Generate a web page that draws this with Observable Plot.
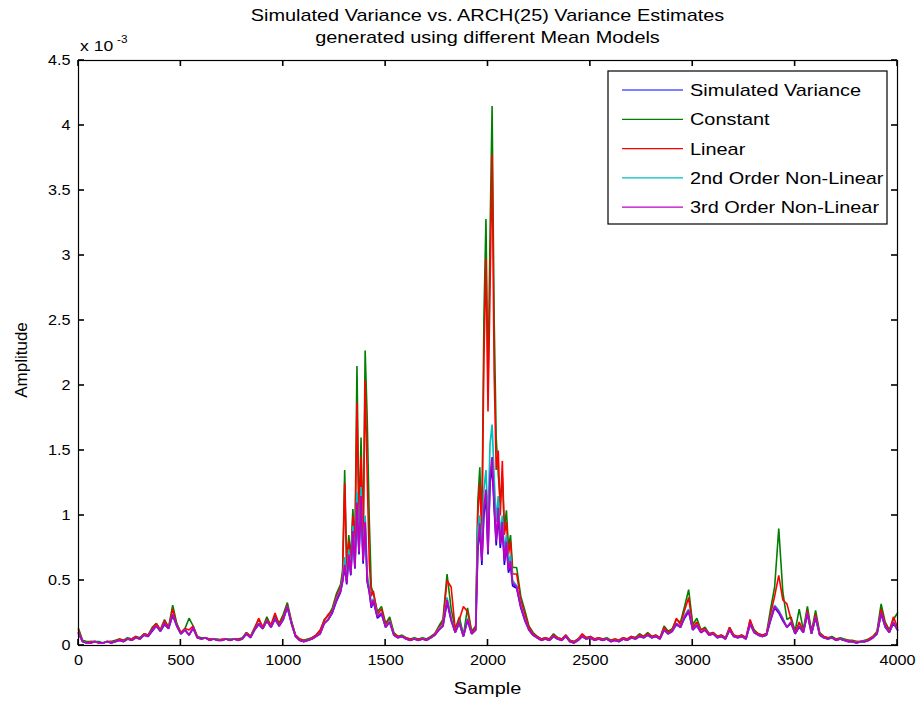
<!DOCTYPE html>
<html><head><meta charset="utf-8">
<script src="https://cdn.jsdelivr.net/npm/d3@7"></script>
<script src="https://cdn.jsdelivr.net/npm/@observablehq/plot@0.6"></script>
<style>body{margin:0;background:#fff;} svg{display:block}</style>
</head><body><div id="chart"></div>
<script>
const titleLines = ["Simulated Variance vs. ARCH(25) Variance Estimates", "generated using different Mean Models"];
const xLabel = "Sample";
const yLabel = "Amplitude";
const seriesNames = ["Simulated Variance", "Constant", "Linear", "2nd Order Non-Linear", "3rd Order Non-Linear"];
const seriesColors = ["#0000ff", "#008000", "#ff0000", "#00bfbf", "#bf00bf"];
const xTicks = [0, 500, 1000, 1500, 2000, 2500, 3000, 3500, 4000];
const yTicks = [0, 0.5, 1, 1.5, 2, 2.5, 3, 3.5, 4, 4.5];

// sample index (finer spacing around the two bursts)
const sample = [...d3.range(0, 1281, 20), ...d3.range(1290, 1441, 10), ...d3.range(1460, 1941, 20), ...d3.range(1950, 2121, 10), ...d3.range(2140, 4001, 20)];

// values in units of 1e-3
const simulated = [
0.09,0.03,0.02,0.02,0.03,0.02,0.02,0.03,0.02,0.03,
0.04,0.03,0.05,0.04,0.06,0.05,0.08,0.07,0.11,0.15,
0.11,0.16,0.13,0.23,0.15,0.09,0.12,0.08,0.13,0.06,
0.05,0.06,0.04,0.05,0.04,0.04,0.05,0.04,0.05,0.04,
0.05,0.09,0.06,0.12,0.16,0.13,0.19,0.14,0.20,0.15,
0.20,0.29,0.17,0.07,0.04,0.03,0.04,0.05,0.07,0.09,
0.17,0.20,0.25,0.34,0.41,
0.49,0.60,0.47,0.68,0.54,0.85,0.59,1.05,0.70,1.10,0.63,0.92,0.49,0.41,0.29,0.34,
0.21,0.24,0.14,0.18,0.08,0.06,0.07,0.05,0.04,0.05,0.04,0.05,0.04,0.06,0.08,0.12,0.15,0.33,0.19,0.10,0.17,0.07,0.19,0.09,0.12,
0.72,0.90,0.62,1.00,1.15,0.70,1.24,1.38,1.05,0.77,1.00,0.75,0.90,0.62,0.77,0.56,0.62,0.46,
0.44,0.29,0.19,0.12,0.08,0.06,0.04,0.05,0.04,0.07,
0.05,0.04,0.07,0.03,0.02,0.04,0.07,0.05,0.06,0.04,
0.05,0.04,0.05,0.03,0.04,0.03,0.05,0.04,0.06,0.05,
0.07,0.06,0.08,0.06,0.07,0.05,0.12,0.09,0.11,0.16,
0.14,0.21,0.26,0.12,0.15,0.10,0.12,0.08,0.09,0.06,
0.07,0.05,0.12,0.07,0.06,0.07,0.05,0.16,0.10,0.08,
0.07,0.08,0.19,0.29,0.25,0.19,0.14,0.17,0.09,0.14,
0.10,0.24,0.09,0.21,0.08,0.06,0.05,0.06,0.04,0.05,
0.04,0.03,0.03,0.02,0.03,0.03,0.04,0.06,0.09,0.24,
0.14,0.10,0.17,0.12];

const constant = [
0.13,0.04,0.03,0.03,0.03,0.03,0.02,0.03,0.03,0.04,
0.05,0.04,0.06,0.05,0.07,0.06,0.09,0.08,0.14,0.17,
0.12,0.20,0.14,0.31,0.17,0.10,0.13,0.21,0.15,0.07,
0.06,0.06,0.05,0.05,0.05,0.04,0.05,0.05,0.05,0.05,
0.06,0.10,0.07,0.14,0.20,0.14,0.22,0.15,0.23,0.17,
0.24,0.33,0.19,0.08,0.05,0.04,0.05,0.06,0.08,0.11,
0.20,0.23,0.29,0.40,0.47,
0.58,1.35,0.62,0.85,0.68,1.05,0.75,2.15,0.95,1.60,0.80,2.27,1.75,0.98,0.45,0.40,
0.26,0.30,0.17,0.22,0.10,0.07,0.08,0.06,0.05,0.06,0.05,0.06,0.05,0.07,0.09,0.15,0.20,0.55,0.28,0.13,0.22,0.08,0.29,0.11,0.15,
1.10,1.37,0.90,2.52,3.28,2.00,3.17,4.15,2.52,1.60,1.32,1.10,1.30,0.90,1.04,0.75,0.85,0.60,
0.60,0.38,0.27,0.15,0.10,0.07,0.05,0.06,0.05,0.09,
0.06,0.05,0.08,0.04,0.03,0.05,0.08,0.06,0.07,0.05,
0.06,0.05,0.06,0.04,0.05,0.04,0.06,0.05,0.07,0.06,
0.09,0.07,0.10,0.07,0.08,0.06,0.15,0.11,0.13,0.20,
0.18,0.30,0.43,0.16,0.21,0.12,0.14,0.09,0.10,0.07,
0.08,0.06,0.14,0.08,0.07,0.08,0.06,0.19,0.12,0.09,
0.08,0.09,0.28,0.45,0.90,0.41,0.20,0.22,0.11,0.28,
0.12,0.30,0.11,0.27,0.10,0.07,0.06,0.07,0.05,0.06,
0.05,0.04,0.04,0.03,0.03,0.04,0.05,0.07,0.11,0.32,
0.18,0.12,0.20,0.25];

const linear = [
0.12,0.03,0.02,0.03,0.03,0.02,0.02,0.03,0.03,0.03,
0.05,0.04,0.05,0.05,0.07,0.05,0.09,0.08,0.13,0.17,
0.12,0.19,0.14,0.28,0.16,0.10,0.13,0.12,0.15,0.07,
0.05,0.06,0.05,0.05,0.04,0.05,0.05,0.04,0.05,0.05,
0.05,0.10,0.07,0.13,0.21,0.14,0.20,0.16,0.25,0.16,
0.22,0.31,0.18,0.08,0.05,0.04,0.04,0.06,0.08,0.12,
0.19,0.24,0.27,0.38,0.45,
0.55,1.25,0.58,0.80,0.62,1.00,0.70,1.87,0.90,1.45,0.75,2.04,1.30,0.65,0.38,0.42,
0.24,0.28,0.16,0.20,0.09,0.07,0.07,0.06,0.05,0.05,0.05,0.05,0.05,0.06,0.09,0.14,0.18,0.50,0.45,0.12,0.20,0.30,0.26,0.10,0.14,
1.00,1.25,0.85,2.20,2.98,1.80,2.73,3.78,2.10,1.35,1.50,1.00,1.42,0.85,0.95,0.70,0.80,0.55,
0.55,0.35,0.24,0.14,0.09,0.07,0.05,0.06,0.05,0.08,
0.06,0.05,0.08,0.04,0.03,0.05,0.09,0.06,0.07,0.05,
0.06,0.05,0.05,0.04,0.05,0.04,0.06,0.05,0.07,0.06,
0.08,0.07,0.09,0.07,0.08,0.06,0.14,0.10,0.12,0.21,
0.16,0.27,0.37,0.14,0.18,0.12,0.13,0.09,0.10,0.07,
0.08,0.06,0.14,0.08,0.07,0.08,0.06,0.20,0.11,0.09,
0.08,0.09,0.24,0.38,0.54,0.35,0.32,0.20,0.10,0.18,
0.11,0.27,0.10,0.24,0.09,0.07,0.06,0.06,0.05,0.05,
0.04,0.04,0.03,0.03,0.03,0.03,0.05,0.07,0.10,0.28,
0.17,0.11,0.22,0.14];

const nonlinear2 = [
0.10,0.03,0.02,0.02,0.03,0.02,0.02,0.03,0.02,0.03,
0.04,0.03,0.05,0.04,0.06,0.05,0.08,0.07,0.12,0.15,
0.11,0.17,0.13,0.24,0.15,0.09,0.12,0.08,0.14,0.06,
0.05,0.06,0.04,0.05,0.04,0.04,0.05,0.04,0.05,0.04,
0.05,0.09,0.06,0.12,0.17,0.13,0.19,0.14,0.21,0.15,
0.20,0.30,0.17,0.07,0.04,0.03,0.04,0.05,0.07,0.09,
0.17,0.20,0.26,0.36,0.43,
0.52,0.68,0.50,0.74,0.57,0.92,0.63,1.18,0.75,1.22,0.68,1.00,0.55,0.45,0.32,0.36,
0.23,0.25,0.14,0.19,0.08,0.06,0.07,0.05,0.04,0.05,0.04,0.05,0.04,0.06,0.08,0.13,0.16,0.37,0.21,0.10,0.18,0.07,0.21,0.09,0.12,
0.90,1.00,0.75,1.20,1.35,0.95,1.55,1.70,1.30,0.95,1.15,0.85,1.00,0.72,0.85,0.62,0.70,0.50,
0.46,0.31,0.20,0.12,0.08,0.06,0.04,0.05,0.04,0.07,
0.05,0.04,0.07,0.03,0.02,0.04,0.07,0.05,0.06,0.04,
0.05,0.04,0.05,0.03,0.04,0.03,0.05,0.04,0.06,0.05,
0.07,0.06,0.08,0.06,0.07,0.05,0.12,0.09,0.11,0.17,
0.14,0.23,0.28,0.12,0.16,0.10,0.12,0.08,0.09,0.06,
0.07,0.05,0.12,0.07,0.06,0.07,0.05,0.17,0.10,0.08,
0.07,0.08,0.21,0.31,0.27,0.21,0.14,0.18,0.09,0.15,
0.10,0.25,0.09,0.22,0.08,0.06,0.05,0.06,0.04,0.05,
0.04,0.03,0.03,0.02,0.03,0.03,0.04,0.06,0.09,0.25,
0.15,0.10,0.18,0.12];

const nonlinear3 = [
0.10,0.03,0.02,0.02,0.03,0.02,0.02,0.03,0.02,0.03,
0.04,0.03,0.05,0.04,0.06,0.05,0.08,0.07,0.12,0.15,
0.11,0.17,0.13,0.24,0.15,0.09,0.12,0.08,0.14,0.06,
0.05,0.06,0.04,0.05,0.04,0.04,0.05,0.04,0.05,0.04,
0.05,0.09,0.06,0.12,0.17,0.13,0.19,0.14,0.21,0.15,
0.20,0.30,0.17,0.07,0.04,0.03,0.04,0.05,0.07,0.09,
0.17,0.20,0.26,0.35,0.42,
0.50,0.62,0.48,0.70,0.55,0.88,0.60,1.10,0.72,1.15,0.65,0.95,0.50,0.42,0.30,0.35,
0.22,0.25,0.14,0.18,0.08,0.06,0.07,0.05,0.04,0.05,0.04,0.05,0.04,0.06,0.08,0.12,0.15,0.35,0.20,0.10,0.18,0.07,0.20,0.09,0.12,
0.75,0.94,0.65,1.05,1.20,0.72,1.30,1.45,1.10,0.80,1.06,0.78,0.95,0.65,0.80,0.58,0.65,0.48,
0.45,0.30,0.20,0.12,0.08,0.06,0.04,0.05,0.04,0.07,
0.05,0.04,0.07,0.03,0.02,0.04,0.07,0.05,0.06,0.04,
0.05,0.04,0.05,0.03,0.04,0.03,0.05,0.04,0.06,0.05,
0.07,0.06,0.08,0.06,0.07,0.05,0.12,0.09,0.11,0.17,
0.14,0.22,0.27,0.12,0.16,0.10,0.12,0.08,0.09,0.06,
0.07,0.05,0.12,0.07,0.06,0.07,0.05,0.17,0.10,0.08,
0.07,0.08,0.20,0.30,0.26,0.20,0.14,0.18,0.09,0.15,
0.10,0.25,0.09,0.22,0.08,0.06,0.05,0.06,0.04,0.05,
0.04,0.03,0.03,0.02,0.03,0.03,0.04,0.06,0.09,0.25,
0.15,0.10,0.18,0.12];

const seriesValues = [simulated, constant, linear, nonlinear2, nonlinear3];
const seriesWidths = [1.6, 1.6, 1.6, 1.7, 1.8];
seriesValues.forEach((v, k) => { if (v.length !== sample.length) throw new Error(seriesNames[k] + " length " + v.length + " vs " + sample.length); });

const rows = seriesValues.map((vals) => vals.map((v, i) => ({sample: sample[i], value: v})));

const W = 923, H = 704, mT = 60, mR = 26, mB = 59, mL = 78, tickLen = 6;
const font = "'Liberation Sans', Arial, Helvetica, sans-serif";
const chart = Plot.plot({
  width: W, height: H,
  marginTop: mT, marginRight: mR, marginBottom: mB, marginLeft: mL,
  style: {fontFamily: font, fontSize: "15px", background: "#fff", color: "#000", overflow: "visible"},
  x: {domain: [0, 4000]},
  y: {domain: [0, 4.5]},
  marks: [
    ...rows.map((r, k) => Plot.line(r, {x: "sample", y: "value", stroke: seriesColors[k], strokeWidth: seriesWidths[k], strokeLinejoin: "miter"})),
    Plot.frame({stroke: "#000", strokeWidth: 1.2}),
    Plot.axisX({anchor: "bottom", ticks: xTicks, tickSize: 0, tickPadding: 9, label: null, tickFormat: d => String(d), fontSize: 15}),
    Plot.axisY({anchor: "left", ticks: yTicks, tickSize: 0, tickPadding: 8, label: null, tickFormat: d => String(d), fontSize: 15})
  ]
});
document.getElementById("chart").appendChild(chart);

const svg = d3.select(chart);
const xs = chart.scale("x"), ys = chart.scale("y");
const x0 = xs.apply(0), x1 = xs.apply(4000), y0 = ys.apply(0), y1 = ys.apply(4.5);

// inward tick marks on all four sides, positioned by Plot's scales
const tg = svg.append("g");
const seg = (ax, ay, bx, by) => tg.append("line")
  .attr("x1", ax).attr("y1", ay).attr("x2", bx).attr("y2", by)
  .style("stroke", "#000").style("stroke-width", "1.6px");
xTicks.forEach(t => {
  const x = xs.apply(t);
  seg(x, y0, x, y0 - tickLen);
  seg(x, y1, x, y1 + tickLen);
});
yTicks.forEach(t => {
  const y = ys.apply(t);
  seg(x0, y, x0 + tickLen, y);
  seg(x1, y, x1 - tickLen, y);
});

const add = (x, y, txt, size, anchor = "middle") => svg.append("text")
  .attr("x", x).attr("y", y).attr("text-anchor", anchor)
  .attr("font-family", font).attr("font-size", size).attr("fill", "#000").text(txt);

add(487.5, 21, titleLines[0], 17).classed("stretch", true);
add(487.5, 43, titleLines[1], 17).classed("stretch", true);
add(487.5, 694, xLabel, 17).classed("stretch", true);
svg.append("text").attr("transform", "translate(27,360) rotate(-90)")
  .attr("text-anchor", "middle").attr("font-family", font).attr("font-size", 17).text(yLabel);
add(80, 51, "x 10", 15, "start").classed("stretch", true);
add(117, 43, "-3", 10, "start").classed("stretch", true);

// legend
const lg = svg.append("g");
lg.append("rect").attr("x", 608).attr("y", 71).attr("width", 279).attr("height", 153)
  .attr("fill", "#fff").attr("stroke", "#000").attr("stroke-width", 1.2);
seriesNames.forEach((name, k) => {
  const y = 90 + k * 29.3;
  lg.append("line").attr("x1", 622).attr("x2", 683).attr("y1", y).attr("y2", y)
    .attr("stroke", seriesColors[k]).attr("stroke-width", 1.2);
  lg.append("text").attr("x", 690).attr("y", y + 6).attr("text-anchor", "start").attr("font-family", font)
    .attr("font-size", 17).attr("fill", "#000").text(name).classed("stretch", true);
});

// horizontally widen text glyphs as in the reference rendering
const stretch = 1.17;
svg.selectAll("text.stretch").each(function() {
  const w = this.getComputedTextLength();
  this.setAttribute("textLength", w * stretch);
  this.setAttribute("lengthAdjust", "spacingAndGlyphs");
});
svg.selectAll("g[aria-label$='tick label'] text").each(function() {
  const w = this.getComputedTextLength();
  if (w > 0) { this.setAttribute("textLength", w * 1.08); this.setAttribute("lengthAdjust", "spacingAndGlyphs"); }
});
</script>
</body></html>
